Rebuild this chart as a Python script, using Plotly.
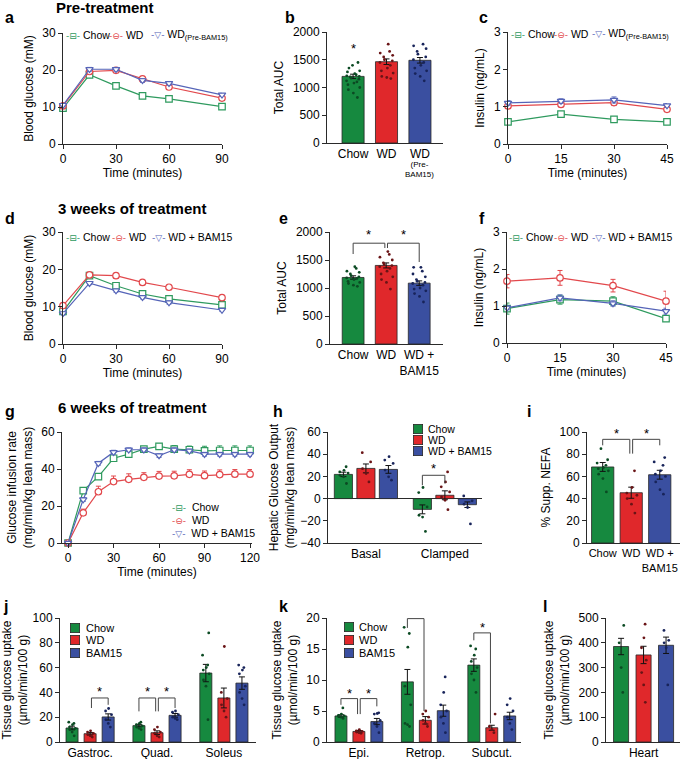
import plotly.graph_objects as go
import numpy as np

W, H = 683, 759
FONT = 'Liberation Sans, Arial, sans-serif'
SYMFONT = 'DejaVu Sans'
AX = '#2a2a2a'
FS = 12

GREEN, RED, BLUE = '#16893f', '#e0282b', '#3a4fa0'
GREEN_LN, RED_LN, BLUE_LN = '#2e9a5e', '#e2484c', '#5564b8'
GREEN_DOT, RED_DOT, BLUE_DOT = '#0b4a23', '#6a1416', '#18245a'
BAR_EDGE = '#262626'

# ---------------- data ----------------
ogtt_min = [0, 15, 30, 45, 60, 90]
ins_min = [0, 15, 30, 45]
clamp_min = [0, 10, 20, 30, 40, 50, 60, 70, 80, 90, 100, 110, 120]

# a  pre-treatment GTT
a_chow = [9.7, 18.7, 15.7, 13.0, 12.2, 10.1]
a_chow_se = [0.4, 0.5, 0.5, 0.4, 0.4, 0.3]
a_wd = [10.3, 19.6, 19.9, 17.6, 15.4, 12.4]
a_wd_se = [0.4, 0.5, 0.6, 0.5, 0.5, 0.4]
a_pre = [10.5, 20.2, 20.2, 17.2, 16.4, 13.3]
a_pre_se = [0.4, 0.5, 0.5, 0.5, 0.5, 0.4]

# b  pre-treatment AUC
b_labels = ['Chow', 'WD', 'WD']
b_sublabel = '(Pre-<br>BAM15)'
b_mean = [1200, 1465, 1490]
b_se = [40, 50, 50]
b_pts = [
    [820, 900, 960, 1000, 1050, 1080, 1100, 1120, 1150, 1170, 1190, 1200, 1210, 1230, 1250, 1280, 1300, 1350, 1400, 1450],
    [1160, 1180, 1200, 1260, 1300, 1350, 1400, 1450, 1480, 1500, 1550, 1580, 1620, 1650, 1780],
    [1120, 1200, 1250, 1300, 1350, 1400, 1450, 1500, 1550, 1600, 1650, 1700, 1750, 1780],
]
b_star = 1710

# c  pre-treatment insulin
c_chow = [0.59, 0.80, 0.66, 0.59]
c_chow_se = [0.04, 0.06, 0.03, 0.03]
c_wd = [1.02, 1.06, 1.11, 0.93]
c_wd_se = [0.05, 0.05, 0.08, 0.05]
c_pre = [1.10, 1.15, 1.18, 1.03]
c_pre_se = [0.06, 0.06, 0.08, 0.05]

# d  3 weeks GTT
d_chow = [8.7, 18.3, 15.6, 13.4, 12.1, 10.5]
d_chow_se = [0.4, 0.4, 0.4, 0.4, 0.4, 0.4]
d_wd = [10.3, 18.5, 18.3, 16.5, 15.2, 12.4]
d_wd_se = [0.4, 0.4, 0.4, 0.4, 0.4, 0.4]
d_bam = [8.2, 16.3, 14.3, 12.5, 11.1, 9.1]
d_bam_se = [0.4, 0.4, 0.4, 0.4, 0.4, 0.4]

# e  3 weeks AUC
e_labels = ['Chow', 'WD', 'WD +<br>BAM15']
e_mean = [1188, 1403, 1087]
e_se = [30, 45, 40]
e_pts = [
    [1030, 1050, 1080, 1100, 1120, 1150, 1170, 1180, 1200, 1220, 1250, 1280, 1300, 1350, 1380],
    [980, 1100, 1150, 1200, 1250, 1300, 1350, 1380, 1400, 1420, 1450, 1500, 1550, 1600, 1650],
    [750, 850, 900, 950, 980, 1000, 1050, 1080, 1100, 1120, 1150, 1200, 1250, 1300, 1370, 1370],
]
# (from, to, top, leg_from, leg_to, star)
e_brackets = [(0, 1, 1800, 1607, 1714, 1950), (1, 2, 1800, 1714, 1464, 1950)]

# f  3 weeks insulin
f_chow = [0.93, 1.17, 1.13, 0.66]
f_chow_se = [0.15, 0.12, 0.12, 0.04]
f_wd = [1.67, 1.76, 1.55, 1.13]
f_wd_se = [0.18, 0.20, 0.17, 0.27]
f_bam = [0.95, 1.22, 1.07, 0.86]
f_bam_se = [0.05, 0.08, 0.07, 0.08]

# g  6 weeks clamp GIR
g_chow = [0, 28.3, 35.9, 45.8, 48.0, 50.7, 52.2, 50.7, 50.4, 49.8, 50.0, 50.0, 50.0]
g_chow_se = [0, 1.5, 1.5, 1.5, 1.5, 1.5, 1.5, 2, 2, 2.5, 2.5, 2.5, 2.5]
g_wd = [0, 16.3, 27.7, 33.2, 34.4, 35.5, 36.2, 36.3, 37.1, 36.4, 37.0, 37.2, 37.2]
g_wd_se = [0, 2, 3, 3, 3, 2.5, 2.5, 2.5, 2.5, 2.5, 2.5, 2.5, 2.5]
g_bam = [0, 23.5, 43.1, 49.1, 50.4, 50.4, 47.3, 50.4, 49.8, 48.0, 48.0, 48.0, 48.0]
g_bam_se = [0, 1, 1, 1, 1, 1, 1, 1, 1, 1, 1, 1, 1]

# h  hepatic glucose output
h_groups = ['Basal', 'Clamped']
h_mean = [[21.8, -9.7], [27.2, 3.0], [26.3, -5.5]]
h_se = [[2.0, 4.0], [4.0, 4.0], [3.5, 2.5]]
h_pts = [
    [[13.6, 19.6, 21, 23, 24, 25.5, 28.7], [-29.6, -16.6, -15, -7.5, 5.4, 10]],
    [[15, 22.6, 27, 33, 41.4], [-10, -1.5, 1.5, 6, 10.6, 15, 24]],
    [[16.6, 19.6, 25.7, 31.7, 34.7, 37.8], [-22.8, -8, -5, -2, 2.4]],
]
# ((group, series) from, (group, series) to, top, leg_from, leg_to, star)
h_brackets = [((1, 0), (1, 1), 21, 12, 13.6, 27)]

# i  NEFA suppression
i_labels = ['Chow', 'WD', 'WD +<br>BAM15']
i_mean = [68.5, 45.3, 61.5]
i_se = [4, 5, 4]
i_pts = [
    [46, 58, 62, 65, 67, 68, 70, 72, 75, 85],
    [27, 35, 40, 43, 45, 50, 65],
    [44, 48, 55, 60, 62, 65, 70, 73, 77],
]
i_brackets = [(0, 1, 93.4, 88, 80.5, 99), (1, 2, 93.4, 80.5, 88, 99)]

# j  muscle glucose uptake
j_groups = ['Gastroc.', 'Quad.', 'Soleus']
j_mean = [[11.3, 13.2, 55.6], [6.7, 7.5, 35.5], [20.2, 21.5, 47.5]]
j_se = [[1.5, 1.0, 7.0], [1.0, 1.5, 8.0], [2.5, 1.5, 5.0]]
j_pts = [
    [[5, 8, 10, 11, 12, 14, 15, 16], [10, 11, 12, 13, 14, 15, 16], [18, 45, 50, 55, 58, 60, 62, 70, 88]],
    [[4, 5, 6, 7, 8, 9], [4, 5, 7, 8, 10, 12], [20, 25, 30, 35, 40, 77]],
    [[12, 15, 18, 22, 25, 27], [18, 19, 20, 22, 24, 25], [30, 35, 40, 45, 55, 58, 60, 62]],
]
j_brackets = [((0, 1), (0, 2), 35.5, 27.4, 30, 41),
              ((1, 0), (1, 1), 35.5, 24.7, 24.7, 41),
              ((1, 1), (1, 2), 35.5, 24.7, 27.4, 41)]

# k  adipose glucose uptake
k_groups = ['Epi.', 'Retrop.', 'Subcut.']
k_mean = [[4.2, 9.7, 12.4], [1.7, 3.5, 2.3], [3.3, 5.05, 4.2]]
k_se = [[0.2, 2.0, 1.0], [0.15, 0.6, 0.4], [0.5, 0.9, 0.6]]
k_pts = [
    [[3.8, 4.0, 4.1, 4.2, 4.3, 4.5, 5.5], [2.5, 2.8, 3.0, 6.0, 9.0, 15.3, 17.5, 18.5], [8, 10, 11, 12, 13, 14, 15, 15.5]],
    [[1.4, 1.5, 1.6, 1.7, 1.8, 2.0], [2.5, 3.0, 3.5, 4.0, 4.5, 5.0], [1.5, 2.0, 2.5, 4.5]],
    [[1.5, 2.5, 3.0, 3.5, 4.5, 4.6, 4.7], [1.5, 3.0, 4.0, 5.0, 6.0, 8.0, 10.5], [2, 3, 4, 5, 6, 7]],
]
k_brackets = [((0, 0), (0, 1), 7.0, 6.0, 4.5, 7.8),
              ((0, 1), (0, 2), 7.0, 4.5, 5.75, 7.8),
              ((1, 0), (1, 1), 19.9, 18.4, 5.0, 21.0),
              ((2, 0), (2, 1), 17.6, 16.4, 3.0, 18.4)]

# l  heart glucose uptake
l_mean = [385, 351, 390]
l_se = [33, 35, 33]
l_pts = [[200, 300, 400, 470], [160, 230, 280, 330, 380, 420, 475], [230, 380, 400, 410, 450]]

line_legend_3 = ['Chow', 'WD', 'WD<sub>(Pre-BAM15)</sub>']
line_legend_bam = ['Chow', 'WD', 'WD + BAM15']
bar_legend_h = ['Chow', 'WD', 'WD + BAM15']
bar_legend_jk = ['Chow', 'WD', 'BAM15']

BAR_COLS = [GREEN, RED, BLUE]
DOT_COLS = [GREEN_DOT, RED_DOT, BLUE_DOT]
LN_COLS = [GREEN_LN, RED_LN, BLUE_LN]
SYMS = ['square', 'circle', 'triangle-down']
GLYPHS = ['-\u229f-', '-\u2296-', '-\u25bd-']

# ---------------- figure ----------------
fig = go.Figure()
lay = {}
annots = []


def ids(n):
    return ('x' if n == 1 else 'x%d' % n, 'y' if n == 1 else 'y%d' % n)


def axes(n, box, xr, yr, yvals, xvals=None, xtext=None, ytitle=None, xtitle=None,
         xticks=True, zeroline=False, ystand=6, xfs=FS):
    x0, x1, y0, y1 = box
    xa, ya = ids(n)
    sfx = '' if n == 1 else str(n)
    xd = dict(
        domain=[x0 / W, x1 / W], range=xr, anchor=ya, showline=True, linecolor=AX, linewidth=1,
        ticks='outside' if xticks else '', ticklen=4, tickcolor=AX, tickvals=xvals, ticktext=xtext,
        tickangle=0, tickfont=dict(size=xfs), showgrid=False, zeroline=False, automargin=False,
        fixedrange=True)
    if xtitle:
        xd['title'] = dict(text=xtitle, font=dict(size=FS), standoff=1)
    yd = dict(
        domain=[1 - y1 / H, 1 - y0 / H], range=yr, anchor=xa, showline=True, linecolor=AX, linewidth=1,
        ticks='outside', ticklen=4, tickcolor=AX, tickvals=yvals, tickfont=dict(size=FS),
        showgrid=False, zeroline=zeroline, zerolinecolor=AX, zerolinewidth=1, automargin=False,
        fixedrange=True)
    if ytitle:
        yd['title'] = dict(text=ytitle, font=dict(size=FS), standoff=ystand)
    lay['xaxis' + sfx] = xd
    lay['yaxis' + sfx] = yd


def line(n, x, y, se, k, upper=False):
    xa, ya = ids(n)
    err = dict(type='data', array=se, color=LN_COLS[k], thickness=1, width=2.5)
    if upper:
        err.update(symmetric=False, arrayminus=[0] * len(se))
    fig.add_trace(go.Scatter(
        x=x, y=y, mode='lines+markers', xaxis=xa, yaxis=ya, error_y=err,
        line=dict(color=LN_COLS[k], width=1.2),
        marker=dict(symbol=SYMS[k], size=6.5, color='white', line=dict(color=LN_COLS[k], width=1.2))))


def bars(n, xpos, mean, se, colors, width):
    xa, ya = ids(n)
    fig.add_trace(go.Bar(
        x=xpos, y=mean, width=width, xaxis=xa, yaxis=ya,
        marker=dict(color=colors, line=dict(color=BAR_EDGE, width=0.8)),
        error_y=dict(type='data', array=se, color='#111111', thickness=1, width=3)))


def dots(n, xc, pts, color, spread):
    xa, ya = ids(n)
    jit = spread * np.sin(np.arange(len(pts)) * 2.39996 + 0.7)
    fig.add_trace(go.Scatter(
        x=xc + jit, y=pts, mode='markers', xaxis=xa, yaxis=ya,
        marker=dict(size=2.8, color=color)))


def bracket(n, xf, xt, top, lf, lt, star):
    xa, ya = ids(n)
    fig.add_trace(go.Scatter(
        x=[xf, xf, xt, xt], y=[lf, top, top, lt], mode='lines', xaxis=xa, yaxis=ya,
        line=dict(color='#444444', width=1)))
    annots.append(dict(x=(xf + xt) / 2, y=star, xref=xa, yref=ya, text='*', showarrow=False,
                       font=dict(size=13, color='black'), yanchor='middle'))


def paper_text(px, py, text, size=11, bold=False, color='black', family=FONT, anchor='left', **kw):
    annots.append(dict(x=px / W, y=1 - py / H, xref='paper', yref='paper',
                       text='<b>%s</b>' % text if bold else text,
                       showarrow=False, xanchor=anchor, yanchor='middle', borderpad=0,
                       font=dict(size=size, color=color, family=family), **kw))


def line_entry(px, py, k, label, gap=' '):
    sym = "<span style='font-family:%s;font-size:9px;color:%s'>%s</span>" % (SYMFONT, LN_COLS[k], GLYPHS[k])
    paper_text(px, py, sym + gap + label, size=10.5)


def bar_legend(sx, tx, ys, labels, cols, size=11):
    for k, py in enumerate(ys):
        paper_text(sx, py, '\u2002', size=4, bgcolor=cols[k], bordercolor=BAR_EDGE, borderwidth=0.8,
                   width=8, height=8)
        paper_text(tx, py, labels[k], size=size)


# ----- a -----
axes(1, (63, 222, 33, 144), [0, 90], [0, 30], [0, 10, 20, 30], [0, 30, 60, 90],
     ytitle='Blood glucose (mM)', xtitle='Time (minutes)')
for k, (yy, ss) in enumerate([(a_chow, a_chow_se), (a_wd, a_wd_se), (a_pre, a_pre_se)]):
    line(1, ogtt_min, yy, ss, k)
for k, px in enumerate([65, 108, 150]):
    line_entry(px, 35, k, line_legend_3[k])

# ----- b -----
axes(2, (327, 443, 32, 143), [-0.78, 2.69], [0, 2000], [0, 500, 1000, 1500, 2000],
     [0, 1, 2], b_labels, ytitle='Total AUC', xticks=False)
bars(2, [0, 1, 2], b_mean, b_se, BAR_COLS, 0.66)
for k in range(3):
    dots(2, k, b_pts[k], DOT_COLS[k], 0.2)
annots.append(dict(x=0, y=b_star, xref='x2', yref='y2', text='*', showarrow=False,
                   font=dict(size=13, color='black'), yanchor='middle'))
annots.append(dict(x=2, y=1 - 159 / H, xref='x2', yref='paper', text=b_sublabel, showarrow=False,
                   font=dict(size=8, color='black'), yanchor='top', borderpad=0))

# ----- c -----
axes(3, (508, 667, 32, 144), [0, 45], [0, 3], [0, 1, 2, 3], [0, 15, 30, 45],
     ytitle='Insulin (ng/mL)', xtitle='Time (minutes)')
for k, (yy, ss) in enumerate([(c_chow, c_chow_se), (c_wd, c_wd_se), (c_pre, c_pre_se)]):
    line(3, ins_min, yy, ss, k)
for k, px in enumerate([510, 553, 591]):
    line_entry(px, 34, k, line_legend_3[k])

# ----- d -----
axes(4, (63, 222, 232, 344), [0, 90], [0, 30], [0, 10, 20, 30], [0, 30, 60, 90],
     ytitle='Blood glucose (mM)', xtitle='Time (minutes)')
for k, (yy, ss) in enumerate([(d_chow, d_chow_se), (d_wd, d_wd_se), (d_bam, d_bam_se)]):
    line(4, ogtt_min, yy, ss, k)
for k, px in enumerate([65, 111, 151]):
    line_entry(px, 237, k, line_legend_bam[k])

# ----- e -----
axes(5, (330, 443, 232, 344), [-0.7, 2.72], [0, 2000], [0, 500, 1000, 1500, 2000],
     [0, 1, 2], e_labels, ytitle='Total AUC', xticks=False)
bars(5, [0, 1, 2], e_mean, e_se, BAR_COLS, 0.66)
for k in range(3):
    dots(5, k, e_pts[k], DOT_COLS[k], 0.2)
for f_, t_, top, lf, lt, st in e_brackets:
    xf = f_ + (0.04 if f_ == 1 else 0)
    xt = t_ - (0.04 if t_ == 1 else 0)
    bracket(5, xf, xt, top, lf, lt, st)

# ----- f -----
axes(6, (507, 666, 232, 343), [0, 45], [0, 3], [0, 1, 2, 3], [0, 15, 30, 45],
     ytitle='Insulin (ng/mL)', xtitle='Time (minutes)')
for k, (yy, ss) in enumerate([(f_chow, f_chow_se), (f_wd, f_wd_se), (f_bam, f_bam_se)]):
    line(6, ins_min, yy, ss, k)
for k, px in enumerate([508, 553, 591]):
    line_entry(px, 237, k, line_legend_bam[k])

# ----- g -----
axes(7, (62, 252, 432, 543), [-4, 121.3], [0, 60], [0, 20, 40, 60], [0, 30, 60, 90, 120],
     ytitle='Glucose infusion rate<br>(mg/min/kg lean mass)', xtitle='Time (minutes)')
line(7, clamp_min, g_chow, g_chow_se, 0, upper=True)
line(7, clamp_min, g_wd, g_wd_se, 1, upper=True)
line(7, clamp_min, g_bam, g_bam_se, 2)
for k, py in enumerate([507, 520, 533]):
    line_entry(171, py, k, line_legend_bam[k], gap='  ')

# ----- h -----
H_OFF = [-0.285, 0.0, 0.285]
axes(8, (328, 482, 432, 543), [-0.48, 1.47], [-40, 60], [-40, -20, 0, 20, 40, 60],
     [0, 1], h_groups, ytitle='Hepatic Glucose Output<br>(mg/min/kg lean mass)',
     xticks=False, zeroline=True, ystand=3)
for s in range(3):
    xs = [g + H_OFF[s] for g in range(2)]
    bars(8, xs, h_mean[s], h_se[s], BAR_COLS[s], 0.23)
    for g in range(2):
        dots(8, xs[g], h_pts[s][g], DOT_COLS[s], 0.06)
for (gf, sf), (gt, st_), top, lf, lt, star in h_brackets:
    bracket(8, gf + H_OFF[sf], gt + H_OFF[st_], top, lf, lt, star)
bar_legend(413, 427, [429, 440, 451], bar_legend_h, BAR_COLS, size=10.5)

# ----- i -----
axes(9, (587, 680, 432, 543), [-0.55, 2.71], [0, 100], [0, 20, 40, 60, 80, 100],
     [0, 1, 2], i_labels, ytitle='% Supp. NEFA', xticks=False, xfs=11)
bars(9, [0, 1, 2], i_mean, i_se, BAR_COLS, 0.78)
for k in range(3):
    dots(9, k, i_pts[k], DOT_COLS[k], 0.2)
for f_, t_, top, lf, lt, st in i_brackets:
    xf = f_ + (0.05 if f_ == 1 else 0)
    xt = t_ - (0.05 if t_ == 1 else 0)
    bracket(9, xf, xt, top, lf, lt, st)

# ----- j / k -----
G_OFF = [-0.27, 0.0, 0.27]
TISSUE = 'Tissue glucose uptake<br>(\u00b5mol/min/100 g)'
axes(10, (60, 256, 618, 742), [-0.45, 2.48], [0, 100], [0, 20, 40, 60, 80, 100],
     [0, 1, 2], j_groups, ytitle=TISSUE, xticks=False)
axes(11, (327, 521, 618, 742), [-0.48, 2.44], [0, 20], [0, 5, 10, 15, 20],
     [0, 1, 2], k_groups, ytitle=TISSUE, xticks=False)
for n, mean, se, pts, brs in [(10, j_mean, j_se, j_pts, j_brackets), (11, k_mean, k_se, k_pts, k_brackets)]:
    for s in range(3):
        xs = [g + G_OFF[s] for g in range(3)]
        bars(n, xs, mean[s], se[s], BAR_COLS[s], 0.18)
        for g in range(3):
            dots(n, xs[g], pts[s][g], DOT_COLS[s], 0.05)
    for (gf, sf), (gt, st_), top, lf, lt, star in brs:
        xf = gf + G_OFF[sf] + (0.02 if sf == 1 else 0)
        xt = gt + G_OFF[st_] - (0.02 if st_ == 1 else 0)
        bracket(n, xf, xt, top, lf, lt, star)
bar_legend(70, 85, [628, 640, 653], bar_legend_jk, BAR_COLS)
bar_legend(344, 358, [627, 640, 653], bar_legend_jk, BAR_COLS)

# ----- l -----
axes(12, (606, 680, 618, 742), [-0.67, 2.62], [0, 500], [0, 100, 200, 300, 400, 500],
     [1], ['Heart'], ytitle=TISSUE, xticks=False)
bars(12, [0, 1, 2], l_mean, l_se, BAR_COLS, 0.67)
for k in range(3):
    dots(12, k, l_pts[k], DOT_COLS[k], 0.12)

# ----- titles and panel letters -----
paper_text(55, 7, 'Pre-treatment', size=15, bold=True)
paper_text(57, 208, '3 weeks of treatment', size=15, bold=True)
paper_text(57, 407, '6 weeks of treatment', size=15, bold=True)
for letter, px, py in [('a', 4, 18), ('b', 284, 18), ('c', 478, 18), ('d', 4, 218), ('e', 278, 218),
                       ('f', 478, 218), ('g', 4, 411), ('h', 272, 411), ('i', 526, 411), ('j', 2, 606),
                       ('k', 278, 606), ('l', 542, 606)]:
    paper_text(px, py, letter, size=16, bold=True)

fig.update_traces(showlegend=False, hoverinfo='skip')
fig.update_traces(cliponaxis=False, selector=dict(type='scatter'))
fig.update_layout(
    width=W, height=H, margin=dict(l=0, r=0, t=0, b=0),
    paper_bgcolor='white', plot_bgcolor='white', barmode='overlay', showlegend=False,
    font=dict(family=FONT, size=FS, color='black'), annotations=annots, **lay)

fig.write_html('out.html', config={'displayModeBar': False},
               post_script="document.body.style.margin='0px';document.body.style.overflow='hidden';")
